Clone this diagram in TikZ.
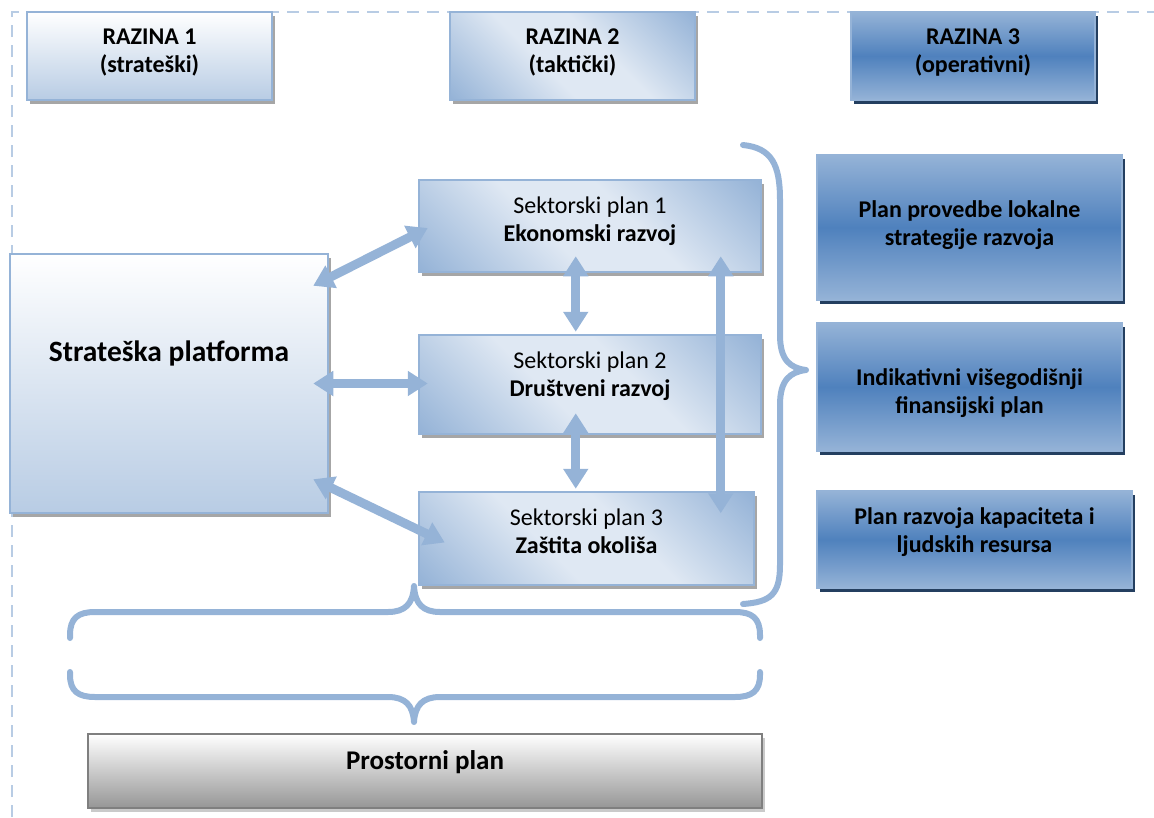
\documentclass[tikz,border=0pt]{standalone}
\usepackage{fontspec}
\setmainfont{Carlito}
\usetikzlibrary{arrows.meta,calc,shadows}
\definecolor{lblue}{HTML}{95B3D7}
\definecolor{pblue}{HTML}{DFE8F3}
\definecolor{vblue}{HTML}{B8CCE4}
\definecolor{mblue}{HTML}{4F81BD}
\definecolor{navy}{HTML}{243F60}
\definecolor{shgray}{HTML}{A6A6A6}
\definecolor{dashcol}{HTML}{B8CCE4}
\definecolor{gborder}{HTML}{7F7F7F}
\definecolor{gbottom}{HTML}{969696}
\pgfdeclareverticalshading{spshade}{100bp}{color(0bp)=(lblue); color(15bp)=(lblue); color(42bp)=(pblue); color(58bp)=(pblue); color(85bp)=(lblue); color(100bp)=(lblue)}
\begin{document}
\begin{tikzpicture}[x=1pt,y=-1pt,
  base/.style={rectangle, inner sep=0pt, align=center, font=\fontsize{24}{28}\selectfont, line width=2.5pt},
  lightbox/.style={base, draw=lblue, general shadow={fill=shgray, shadow xshift=3pt, shadow yshift=-4pt}},
  vgrad/.style={lightbox, top color=white, bottom color=vblue},
  dgrad/.style={lightbox, shading=spshade, shading angle=-45},
  darkbox/.style={base, font=\fontsize{24}{28}\selectfont\bfseries, draw=lblue, top color=lblue, bottom color=lblue, middle color=mblue, general shadow={fill=navy, shadow xshift=3pt, shadow yshift=-4pt}},
  graybox/.style={base, draw=gborder, top color=white, bottom color=gbottom, general shadow={fill=shgray!60, shadow xshift=3pt, shadow yshift=-4pt}},
  dblarrow/.style={draw=lblue, line width=9pt, {Triangle[width=24pt,length=20pt]}-{Triangle[width=24pt,length=20pt]}},
  brace/.style={draw=lblue, line width=6pt, line cap=round, line join=round},
  frame/.style={draw=dashcol, line width=2pt, dash pattern=on 12pt off 8pt}
]
\useasboundingbox (0,0) rectangle (1154,817);
\draw[frame] (12,817) -- (12,12) -- (1154,12);

% level headers
\node[vgrad, minimum width=245, minimum height=88, font=\fontsize{24}{28}\selectfont\bfseries, text height=60pt, text depth=28pt] (r1) at (149.5,56) {RAZINA 1\\(strateški)};
\node[dgrad, minimum width=245, minimum height=88, font=\fontsize{24}{28}\selectfont\bfseries, text height=60pt, text depth=28pt] (r2) at (572.5,56) {RAZINA 2\\(taktički)};
\node[darkbox, minimum width=244, minimum height=88, text height=60pt, text depth=28pt] (r3) at (973,56) {RAZINA 3\\(operativni)};

% strategic platform
\node[vgrad, minimum width=318, minimum height=259, font=\fontsize{29.5}{34}\selectfont\bfseries] (strat) at (169,383.5) {\raisebox{22.5pt}[0pt][0pt]{Strateška platforma}};

% sector plans
\node[dgrad, minimum width=342, minimum height=92, text height=60pt, text depth=30pt] (sp1) at (590,226) {Sektorski plan 1\\\textbf{Ekonomski razvoj}};
\node[dgrad, minimum width=342, minimum height=99, text height=60pt, text depth=37pt] (sp2) at (590,384.5) {Sektorski plan 2\\\textbf{Društveni razvoj}};
\node[dgrad, minimum width=335, minimum height=93, text height=60pt, text depth=31pt] (sp3) at (586.5,538.5) {Sektorski plan 3\\\textbf{Zaštita okoliša}};

% operational plans
\node[darkbox, minimum width=305, minimum height=145, text height=60pt, text depth=25pt] (p1) at (969.5,227.5) {Plan provedbe lokalne\\strategije razvoja};
\node[darkbox, minimum width=305, minimum height=128, text height=60pt, text depth=7pt] (p2) at (969.5,387) {Indikativni višegodišnji\\finansijski plan};
\node[darkbox, minimum width=315, minimum height=97, text height=60pt, text depth=35pt] (p3) at (974.5,539.5) {Plan razvoja kapaciteta i\\ljudskih resursa};

% spatial plan
\node[graybox, minimum width=674, minimum height=74, font=\fontsize{27}{31}\selectfont\bfseries] (pp) at (425,771) {\raisebox{2pt}[0pt][0pt]{Prostorni plan}};

% arrows
\draw[dblarrow] ($(strat.north east)+(-16,33)$) -- ($(sp1.west)+(10,2)$);
\draw[dblarrow] ($(strat.east)+(-16,0)$) -- ($(sp2.west |- strat.east)+(10,0)$);
\draw[dblarrow] ($(strat.south east)+(-16,-35)$) -- ($(sp3.west)+(27,4)$);
\draw[dblarrow] ($(sp1.south west)+(158,-17)$) -- ($(sp2.north west)+(158,-2)$);
\draw[dblarrow] ($(sp2.south west)+(158,-22)$) -- ($(sp3.north west)+(158,-2)$);
\draw[dblarrow] ($(sp1.south west)+(303,-17)$) -- ($(sp3.south west)+(303,-73)$);

% right brace
\draw[brace] (743,145) .. controls (772,148) and (780,165) .. (780,200) -- (780,335)
  .. controls (780,360) and (790,368) .. (806,370)
  .. controls (790,372) and (780,380) .. (780,405) -- (780,565)
  .. controls (780,595) and (770,602) .. (743,604);

% bottom braces
\draw[brace] (70,638) -- (70,635) .. controls (70,618) and (78,612) .. (95,612) -- (388,612)
  .. controls (405,612) and (413,604) .. (414,586)
  .. controls (415,604) and (423,612) .. (440,612) -- (735,612)
  .. controls (752,612) and (760,618) .. (760,635) -- (760,638);
\draw[brace] (70,672) -- (70,675) .. controls (70,691) and (78,697) .. (95,697) -- (388,697)
  .. controls (405,697) and (413,705) .. (414,722)
  .. controls (415,705) and (423,697) .. (440,697) -- (735,697)
  .. controls (752,697) and (760,691) .. (760,675) -- (760,672);
\end{tikzpicture}
\end{document}
